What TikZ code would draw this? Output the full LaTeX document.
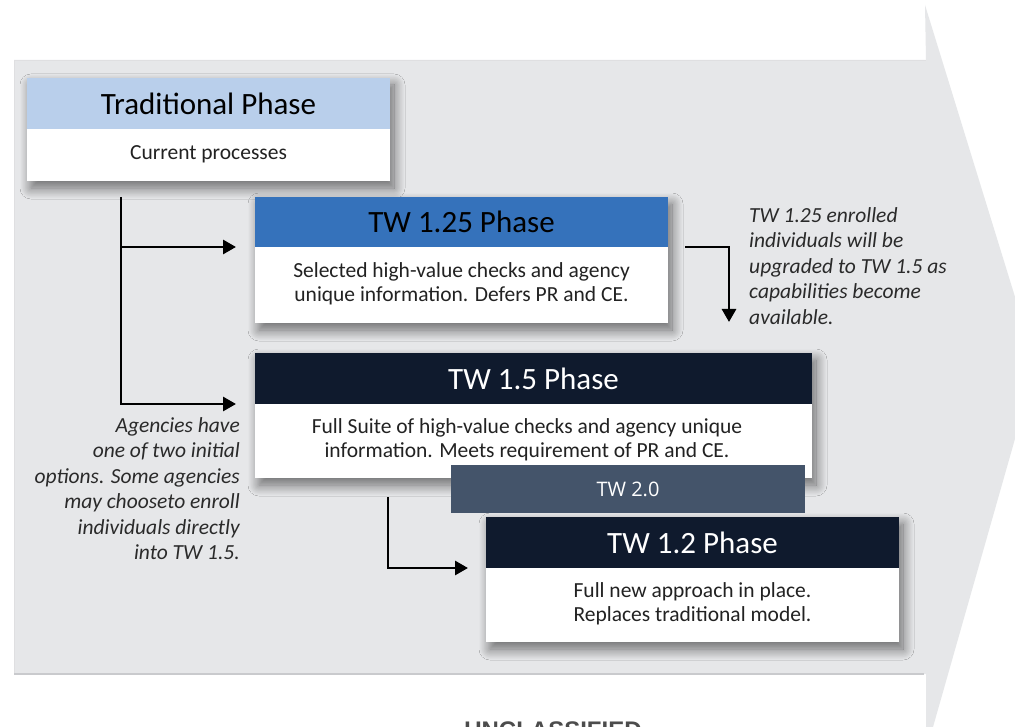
\documentclass[tikz,border=0pt]{standalone}
\usepackage{fontspec}
\setmainfont{Carlito}
\newfontfamily\twofont{Open Sans}
\newfontfamily\stampfont{Liberation Sans}
\usetikzlibrary{shadows.blur,arrows.meta,calc}
\definecolor{bggray}{HTML}{E6E7E9}
\definecolor{edgegray}{HTML}{C9CACD}
\definecolor{lightblue}{HTML}{B9CFEB}
\definecolor{midblue}{HTML}{3572BB}
\definecolor{navy}{HTML}{0F1A2D}
\definecolor{slate}{HTML}{44546A}
\definecolor{notegray}{HTML}{2A2A2A}
\definecolor{bodyink}{HTML}{222222}
\newcommand{\ttlfnt}{\fontsize{31}{36}\selectfont}
\newcommand{\bdyfnt}{\fontsize{21.5}{24.5}\selectfont}
\newcommand{\ntfnt}{\fontsize{21.5}{25.5}\selectfont\itshape}
\begin{document}
\begin{tikzpicture}[x=1pt,y=-1pt,
  frame/.style={fill=white, inner sep=0pt, outer sep=0pt, anchor=north west,
    blur shadow={shadow xshift=4pt, shadow yshift=-7pt, shadow blur radius=11pt, shadow blur steps=16, shadow opacity=55}},
  headbar/.style={inner sep=0pt, outer sep=0pt, anchor=north west, font=\ttlfnt},
  bodytext/.style={align=center, font=\bdyfnt, inner sep=0pt, text=bodyink},
  conn/.style={line width=2.8pt, -{Triangle[length=13pt,width=14pt]}},
  note/.style={font=\ntfnt, inner sep=0pt, text=notegray}
]
\useasboundingbox (0,0) rectangle (1015,727);
\begin{scope}
\clip (0,0) rectangle (1015,727);
\fill[white] (0,0) rectangle (1015,727);
% big arrow background
\fill[bggray] (14,60) -- (926,60) -- (925,5) -- (1036,365) -- (933,727) -- (926,727) -- (926,674) -- (14,674) -- cycle;
\draw[edgegray!60, line width=0.8pt] (14,674) -- (14,60) -- (926,60);
\draw[edgegray, line width=2pt] (14,674) -- (924,674);

% Traditional
\node[frame, minimum width=363pt, minimum height=103pt] (trad) at (27,78) {};
\node[headbar, fill=lightblue, minimum width=363pt, minimum height=51pt, text=black] (tradh) at (trad.north west) {Traditional Phase};
\node[bodytext] (tradb) at (208.5,154) {Current processes};

% TW 1.25
\node[frame, minimum width=413pt, minimum height=126pt] (tw125) at (255,197) {};
\node[headbar, fill=midblue, minimum width=413pt, minimum height=50pt, text=black] (tw125h) at (tw125.north west) {TW 1.25 Phase};
\node[bodytext] (tw125b) at (461.5,284) {Selected high-value checks and agency\\unique information. Defers PR and CE.};

% TW 1.5
\node[frame, minimum width=557pt, minimum height=125pt] (tw15) at (255,353) {};
\node[headbar, fill=navy, minimum width=557pt, minimum height=51pt, text=white] (tw15h) at (tw15.north west) {TW 1.5 Phase};
\node[bodytext] (tw15b) at (527,440) {Full Suite of high-value checks and agency unique\\information. Meets requirement of PR and CE.};

% TW 2.0
\node[fill=slate, inner sep=0pt, outer sep=0pt, anchor=north west, minimum width=354pt, minimum height=48pt, text=white, font=\twofont\fontsize{20}{24}\selectfont] (tw20) at (451,465) {TW 2.0};

% TW 1.2
\node[frame, minimum width=413pt, minimum height=125pt] (tw12) at (486,517) {};
\node[headbar, fill=navy, minimum width=413pt, minimum height=51pt, text=white] (tw12h) at (tw12.north west) {TW 1.2 Phase};
\node[bodytext] (tw12b) at (692.5,604) {Full new approach in place.\\Replaces traditional model.};

% connectors
\coordinate (vtop) at (121,197);
\draw[conn, shorten >=19pt] (vtop) |- (tw15h.south west);
\draw[conn, shorten >=19pt] (vtop |- tw125h.south west) -- (tw125h.south west);
\coordinate (rstart) at (685,247);
\coordinate (rtip) at (729,322);
\draw[conn] (rstart) -| (rtip);
\coordinate (ltop) at (388,497);
\draw[conn, shorten >=18pt] (ltop) |- (tw12h.south west);

% notes
\node[note, anchor=north west, align=left] (rnote) at (749,207)
  {TW 1.25 enrolled\\individuals will be\\upgraded to TW 1.5 as\\capabilities become\\available.};
\node[note, anchor=north east, align=right] (lnote) at (240,417)
  {Agencies have\\one of two initial\\options. Some agencies\\may chooseto enroll\\individuals directly\\into TW 1.5.};

% footer
\node[anchor=north, inner sep=0pt, text=black!70, font=\stampfont\bfseries\fontsize{24}{28}\selectfont] (stamp) at (553,722) {UNCLASSIFIED};
\end{scope}
\end{tikzpicture}
\end{document}
